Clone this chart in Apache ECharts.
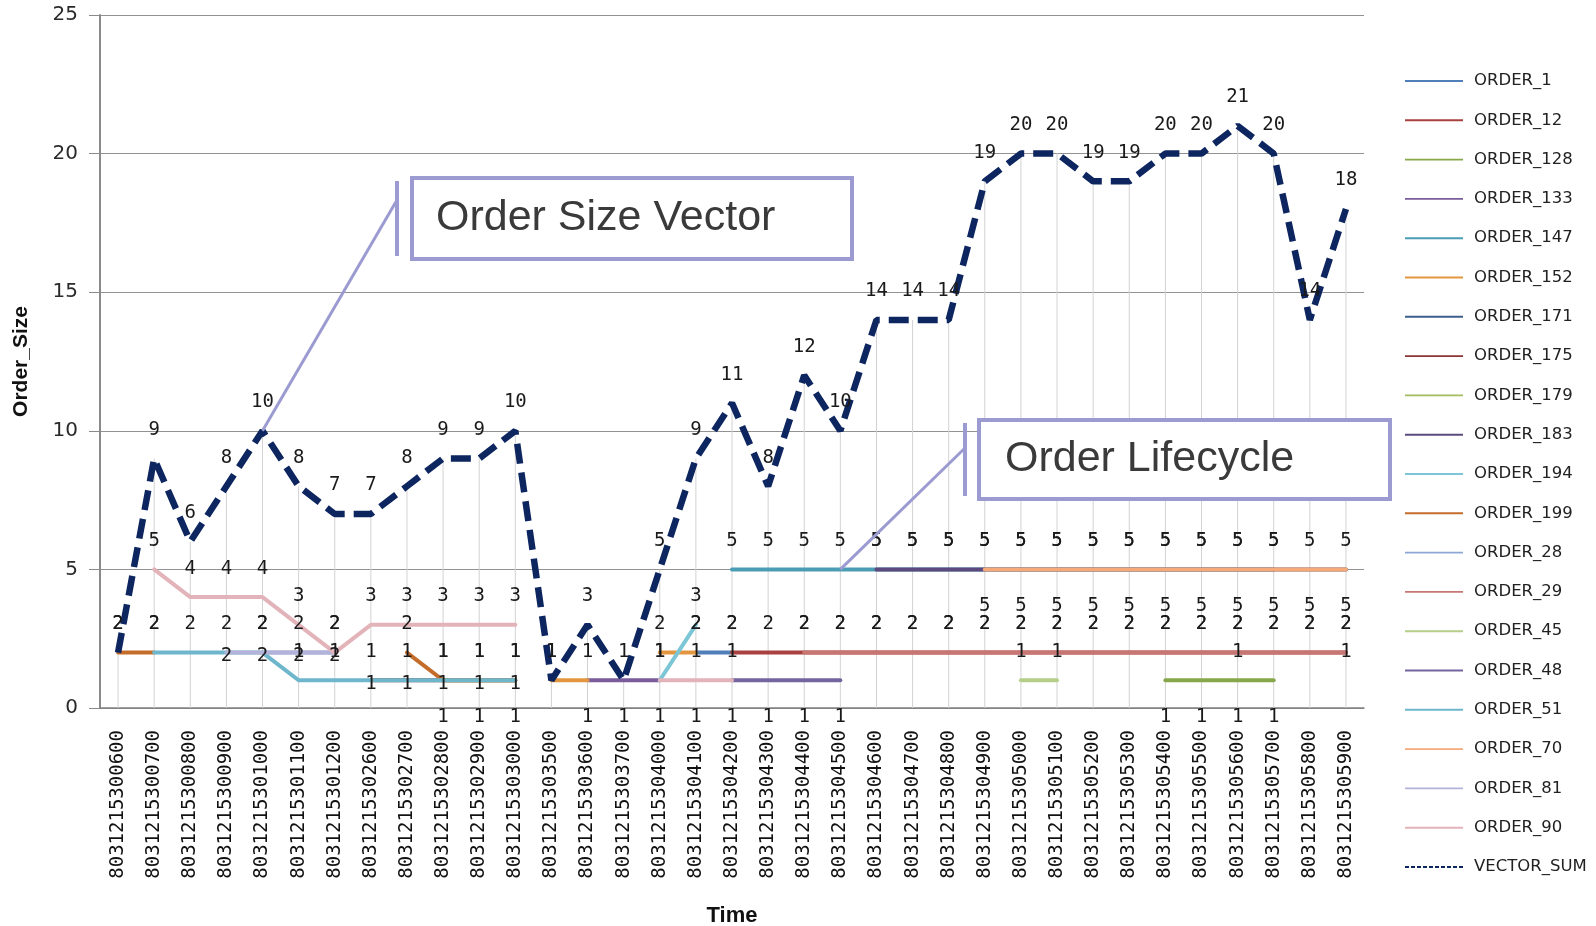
<!DOCTYPE html>
<html>
<head>
<meta charset="utf-8">
<title>Order Size Vector</title>
<script src="https://cdn.jsdelivr.net/npm/echarts/dist/echarts.min.js"></script>
<style>
  html, body { margin: 0; padding: 0; background: #ffffff; }
  #chart { width: 1596px; height: 926px; }
</style>
</head>
<body>
<div id="chart"></div>
<script>
const _ = null;

// x categories (time stamps)
const times = [
  '8031215300600', '8031215300700', '8031215300800', '8031215300900', '8031215301000',
  '8031215301100', '8031215301200', '8031215302600', '8031215302700', '8031215302800',
  '8031215302900', '8031215303000', '8031215303500', '8031215303600', '8031215303700',
  '8031215304000', '8031215304100', '8031215304200', '8031215304300', '8031215304400',
  '8031215304500', '8031215304600', '8031215304700', '8031215304800', '8031215304900',
  '8031215305000', '8031215305100', '8031215305200', '8031215305300', '8031215305400',
  '8031215305500', '8031215305600', '8031215305700', '8031215305800', '8031215305900'
];

// total size per time stamp
const vectorSum = [2, 9, 6, 8, 10, 8, 7, 7, 8, 9, 9, 10, 1, 3, 1, 5, 9, 11, 8, 12, 10, 14, 14, 14, 19, 20, 20, 19, 19, 20, 20, 21, 20, 14, 18];

// one array per order, null where the order is not alive
//                 0-4        5-9        10-14      15-19      20-24      25-29      30-34
const order1   = [_,_,_,_,_, _,_,_,_,_, _,_,_,_,_, _,2,2,_,_, _,_,_,_,_, _,_,_,_,_, _,_,_,_,_];
const order12  = [_,_,_,_,_, _,_,_,_,_, _,_,_,_,_, _,_,2,2,2, 2,2,2,2,2, 2,2,2,2,2, 2,2,2,2,2];
const order128 = [_,_,_,_,_, _,_,_,_,_, _,_,_,_,_, _,_,_,_,_, _,_,_,_,_, _,_,_,_,1, 1,1,1,_,_];
const order133 = [_,_,_,_,_, _,_,_,_,_, _,_,_,1,1, 1,_,_,_,_, _,_,_,_,_, _,_,_,_,_, _,_,_,_,_];
const order147 = [_,_,_,_,_, _,_,_,_,_, _,_,_,_,_, _,_,5,5,5, 5,5,5,5,5, 5,5,5,5,5, 5,5,5,_,_];
const order152 = [_,_,_,_,_, _,_,_,_,_, _,_,1,1,_, 2,2,_,_,_, _,_,_,_,_, _,_,_,_,_, _,_,_,_,_];
const order171 = [_,_,_,_,_, _,_,_,_,_, _,_,_,_,_, _,_,_,_,_, _,_,_,_,_, _,_,_,_,_, _,1,_,_,1];
const order175 = [_,_,_,_,_, _,_,1,1,1, 1,1,_,_,_, _,_,_,_,_, _,_,_,_,_, _,_,_,_,_, _,_,_,_,_];
const order179 = [_,_,_,_,_, _,_,_,_,1, 1,1,_,_,_, _,1,_,_,_, _,_,_,_,_, _,_,_,_,_, _,_,_,_,_];
const order183 = [_,_,_,_,_, _,_,_,_,_, _,_,_,_,_, _,_,_,_,_, _,5,5,5,5, 5,5,5,5,5, 5,5,5,5,5];
const order194 = [_,_,_,_,_, _,_,_,_,_, _,_,_,_,_, 1,3,_,_,_, _,_,_,_,_, _,_,_,_,_, _,_,_,_,_];
const order199 = [2,2,_,_,_, _,_,_,2,1, 1,1,_,_,_, _,_,_,_,_, _,_,_,_,_, _,_,_,_,_, _,_,_,_,_];
const order28  = [_,_,_,_,2, 2,2,_,_,_, _,_,_,_,_, _,_,_,_,_, _,_,_,_,_, _,_,_,_,_, _,_,_,_,_];
const order29  = [_,_,_,_,_, _,_,_,_,_, _,_,_,_,_, _,_,_,_,2, 2,2,2,2,2, 2,2,2,2,2, 2,2,2,2,2];
const order45  = [_,_,_,_,_, _,_,_,_,_, _,_,_,_,_, _,_,_,_,_, _,_,_,_,_, 1,1,_,_,_, _,_,_,_,_];
const order48  = [_,_,_,_,_, _,_,_,_,_, _,_,_,_,_, _,_,1,1,1, 1,_,_,_,_, _,_,_,_,_, _,_,_,_,_];
const order51  = [_,2,2,2,2, 1,1,1,1,1, 1,1,_,_,_, _,_,_,_,_, _,_,_,_,_, _,_,_,_,_, _,_,_,_,_];
const order70  = [_,_,_,_,_, _,_,_,_,_, _,_,_,_,_, _,_,_,_,_, _,_,_,_,5, 5,5,5,5,5, 5,5,5,5,5];
const order81  = [_,_,_,2,2, 2,2,_,_,_, _,_,_,_,_, _,_,_,_,_, _,_,_,_,_, _,_,_,_,_, _,_,_,_,_];
const order90  = [_,5,4,4,4, 3,2,3,3,3, 3,3,_,_,_, 1,1,1,_,_, _,_,_,_,_, _,_,_,_,_, _,_,_,_,_];

// legend order = draw order (later ones paint on top, like the spreadsheet)
const orders = [
  { name: 'ORDER_1',   data: order1,   color: '#4f7fb8', label: 'top' },
  { name: 'ORDER_12',  data: order12,  color: '#a8413f', label: 'top' },
  { name: 'ORDER_128', data: order128, color: '#86a84a', label: 'bottom' },
  { name: 'ORDER_133', data: order133, color: '#7a5c9a', label: 'bottom' },
  { name: 'ORDER_147', data: order147, color: '#4a9db5', label: 'top' },
  { name: 'ORDER_152', data: order152, color: '#e3963f', label: 'top' },
  { name: 'ORDER_171', data: order171, color: '#3b5f8c', label: 'top' },
  { name: 'ORDER_175', data: order175, color: '#8a3533', label: 'center' },
  { name: 'ORDER_179', data: order179, color: '#a3bd5c', label: 'bottom' },
  { name: 'ORDER_183', data: order183, color: '#5b4a7e', label: 'top' },
  { name: 'ORDER_194', data: order194, color: '#7cc6d6', label: 'top' },
  { name: 'ORDER_199', data: order199, color: '#c46d2b', label: 'top' },
  { name: 'ORDER_28',  data: order28,  color: '#8fa7d4', label: 'top' },
  { name: 'ORDER_29',  data: order29,  color: '#c77674', label: 'top' },
  { name: 'ORDER_45',  data: order45,  color: '#b5cf8a', label: 'top' },
  { name: 'ORDER_48',  data: order48,  color: '#7464a0', label: 'bottom' },
  { name: 'ORDER_51',  data: order51,  color: '#6db6cb', label: 'top' },
  { name: 'ORDER_70',  data: order70,  color: '#f4a978', label: 'bottom' },
  { name: 'ORDER_81',  data: order81,  color: '#b3b3da', label: 'center' },
  { name: 'ORDER_90',  data: order90,  color: '#e3b3ba', label: 'top' }
];

const labelFont = 'DejaVu Sans Mono';
const sumColor = '#0d2660';
const calloutColor = '#9b9bd1';

function labelFor(pos) {
  const base = { show: true, fontFamily: labelFont, fontSize: 19, color: '#1a1a1a' };
  if (pos === 'top') return Object.assign(base, { position: 'top', distance: 19 });
  if (pos === 'bottom') return Object.assign(base, { position: 'bottom', distance: 27 });
  return Object.assign(base, { position: 'inside', offset: [0, 4] });
}

const series = [
  // drop lines from each total down to the axis
  {
    type: 'bar', name: 'drop', data: vectorSum, barWidth: 1, silent: true, z: 1,
    itemStyle: { color: '#d2d2d2' }
  }
];

orders.forEach(o => {
  series.push({
    type: 'line', name: o.name, data: o.data, z: 2,
    symbol: 'circle', symbolSize: 0, showAllSymbol: true, connectNulls: false,
    color: o.color,
    lineStyle: { width: 4, color: o.color, cap: 'round', join: 'round' },
    itemStyle: { color: o.color },
    label: labelFor(o.label),
    emphasis: { disabled: true }
  });
});

series.push({
  type: 'line', name: 'VECTOR_SUM', data: vectorSum, z: 3,
  symbol: 'circle', symbolSize: 0, showAllSymbol: true,
  color: sumColor,
  lineStyle: { width: 6.5, color: sumColor, type: [20, 9] },
  itemStyle: { color: sumColor },
  label: labelFor('top'),
  emphasis: { disabled: true }
});

// thin line icons for the legend, dashed one for the total
const solidIcon = 'path://M0,0H60V2H0Z';
let dashPath = '';
for (let x = 0; x < 60; x += 6) dashPath += 'M' + x + ',0H' + (x + 4) + 'V2H' + x + 'Z';
const dashIcon = 'path://' + dashPath;

const legendData = orders.map(o => ({ name: o.name, icon: solidIcon }));
legendData.push({ name: 'VECTOR_SUM', icon: dashIcon });

const chart = echarts.init(document.getElementById('chart'), null, { renderer: 'canvas', width: 1596, height: 926 });

chart.setOption({
  animation: false,
  backgroundColor: '#ffffff',
  grid: { left: 100, right: 232, top: 15, bottom: 218, containLabel: false, outerBoundsMode: 'none' },
  legend: {
    orient: 'vertical', left: 1400, top: 67,
    itemWidth: 58, itemHeight: 18, itemGap: 21.3,
    selectedMode: false,
    data: legendData,
    textStyle: { fontFamily: 'DejaVu Sans', fontSize: 16.5, color: '#222', lineHeight: 18, padding: [0, 0, 0, 6] }
  },
  xAxis: {
    type: 'category', data: times,
    name: 'Time', nameLocation: 'middle', nameGap: 197,
    nameTextStyle: { fontFamily: 'Liberation Sans', fontWeight: 'bold', fontSize: 22, color: '#111' },
    axisLine: { lineStyle: { color: '#808080', width: 1.5 } },
    axisTick: { show: false },
    axisLabel: { rotate: 90, interval: 0, margin: 22, fontFamily: labelFont, fontSize: 19, color: '#111' },
    splitLine: { show: false }
  },
  yAxis: {
    type: 'value', min: 0, max: 25, interval: 5,
    name: 'Order_Size', nameLocation: 'middle', nameGap: 68, nameRotate: 90,
    nameTextStyle: { fontFamily: 'Liberation Sans', fontWeight: 'bold', fontSize: 21, color: '#111' },
    axisLine: { show: true, lineStyle: { color: '#8a8a8a', width: 2 } },
    axisTick: { show: true, length: 11, lineStyle: { color: '#8a8a8a' } },
    axisLabel: { margin: 22, fontFamily: 'DejaVu Sans', fontSize: 20, color: '#2a2a2a' },
    splitLine: { lineStyle: { color: '#929292', width: 1 } }
  },
  series: series
});

// callouts: boxes are placed by hand, the pointer ends on the data point
const sizeTarget = chart.convertToPixel({ gridIndex: 0 }, [times[4], vectorSum[4]]);
const lifeTarget = chart.convertToPixel({ gridIndex: 0 }, [times[20], order147[20]]);

function callout(box, barX, text, textX, anchorY, target) {
  return [
    { type: 'rect', z: 10, shape: box, style: { fill: '#ffffff', stroke: calloutColor, lineWidth: 4 } },
    { type: 'line', z: 10, shape: { x1: barX, y1: box.y + 3, x2: barX, y2: box.y + box.height - 3 },
      style: { stroke: calloutColor, lineWidth: 4 } },
    { type: 'line', z: 10, shape: { x1: barX, y1: anchorY, x2: target[0], y2: target[1] },
      style: { stroke: calloutColor, lineWidth: 3 } },
    { type: 'text', z: 11, x: textX, y: box.y + box.height / 2,
      style: { text: text, font: '43px "Liberation Sans"', fill: '#3a3a3a', verticalAlign: 'middle' } }
  ];
}

chart.setOption({
  graphic: [].concat(
    callout({ x: 412, y: 178, width: 440, height: 81 }, 397, 'Order Size Vector', 436, 200, sizeTarget),
    callout({ x: 979, y: 420, width: 411, height: 79 }, 965, 'Order Lifecycle', 1005, 448, lifeTarget)
  )
});
</script>
</body>
</html>
